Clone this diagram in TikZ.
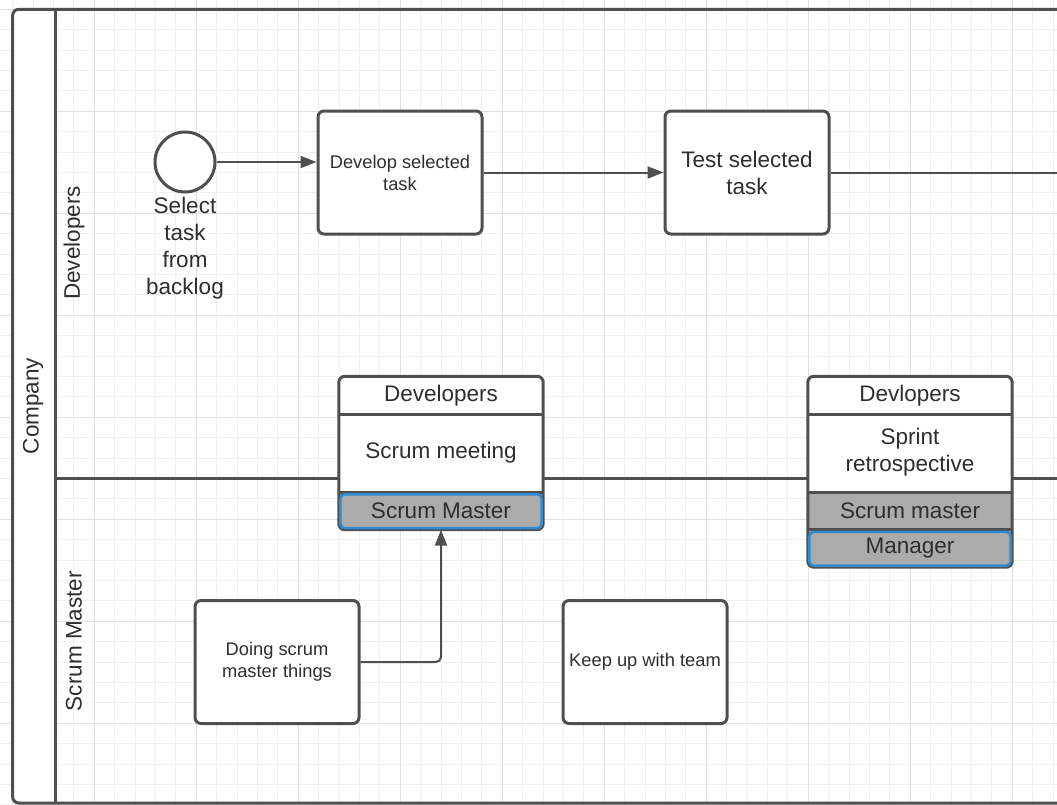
\documentclass[tikz,border=0pt]{standalone}
\usepackage{fontspec}
\setmainfont{Liberation Sans}
\usetikzlibrary{arrows.meta}

\definecolor{ink}{HTML}{4F4F4F}
\definecolor{txt}{HTML}{2E2E2E}
\definecolor{rowgray}{HTML}{ABABAB}
\definecolor{selblue}{HTML}{2F8AD2}
\definecolor{gridminor}{HTML}{F0F0F0}
\definecolor{gridmajor}{HTML}{E0E0E0}

\newcommand\bigtxt{\fontsize{22.5}{27}\selectfont}
\newcommand\smalltxt{\fontsize{18.3}{22}\selectfont}

\begin{document}
\begin{tikzpicture}[x=1pt,y=-1pt,
  minorline/.style={draw=gridminor,line width=1pt},
  majorline/.style={draw=gridmajor,line width=1pt},
  border/.style={draw=ink,line width=3pt},
  taskbox/.style={border,fill=white,rounded corners=6pt,minimum width=164pt,
    minimum height=123pt,inner sep=0pt,align=center,text=txt},
  flow/.style={draw=ink,line width=2pt,-{Triangle[length=16pt,width=12pt]}},
  plainline/.style={draw=ink,line width=2pt},
  rowcell/.style={minimum width=204pt,inner sep=0pt,align=center,text=txt,font=\bigtxt},
  blueedge/.style={draw=selblue,line width=2.5pt},
  lanetitle/.style={rotate=90,text=txt,font=\bigtxt,inner sep=0pt},
]
\useasboundingbox (0,0) rectangle (1057,804);
\clip (0,0) rectangle (1057,804);
\fill[white] (0,0) rectangle (1057,804);

% background grid
\foreach \k in {0,...,52} \draw[minorline] ({-7.7+20.4*\k},0) -- ++(0,804);
\foreach \k in {-1,...,39} \draw[minorline] (0,{9.3+20.4*\k}) -- ++(1057,0);
\foreach \k in {0,...,10} \draw[majorline] ({-7.7+102*\k},0) -- ++(0,804);
\foreach \k in {0,...,7} \draw[majorline] (0,{9.3+102*\k}) -- ++(1057,0);

% pool with its title column
\fill[white] (55,9.3) [rounded corners=6pt] -- (12.7,9.3) -- (12.7,803) [sharp corners] -- (55,803) -- cycle;
\draw[border,rounded corners=6pt] (1080,9.3) -- (12.7,9.3) -- (12.7,803) -- (1080,803);
\draw[border] (55,9.3) -- (55,803);
\draw[border] (55,478) -- (1080,478);

\node[lanetitle] (poolname) at (33,406) {Company};
\node[lanetitle] (lanedev) at (74,243) {Developers};
\node[lanetitle] (lanesm) at (74,641) {Scrum Master};

% developers lane
\node[circle,border,fill=white,minimum size=60pt,inner sep=0pt] (start) at (185,162) {};
\node[anchor=north,align=center,text=txt,font=\bigtxt,inner sep=0pt] (startlbl)
  at ([yshift=-3pt]start.south) {Select\\task\\from\\backlog};
\node[taskbox,font=\smalltxt] (develop) at (400,172.5) {Develop selected\\task};
\node[taskbox,font=\bigtxt] (test) at (747,172.5) {Test selected\\task};
\coordinate (rightend) at (1070,172.5);

% scrum meeting group
\begin{scope}
  \clip[rounded corners=6pt] (339,376.5) rectangle (543,529.5);
  \fill[white] (339,376.5) rectangle (543,529.5);
  \node[rowcell,minimum height=37.5pt] (smhead) at (441,395.25) {Developers};
  \node[rowcell,minimum height=78pt] (smbody) at (441,453) {Scrum meeting};
  \node[rowcell,minimum height=37.5pt,fill=rowgray] (smfoot) at (441,510.75) {Scrum Master};
\end{scope}
\draw[border,rounded corners=6pt] (smhead.north west) rectangle (smfoot.south east);
\draw[border] (smhead.south west) -- (smhead.south east);
\draw[border] (smbody.south west) -- (smbody.south east);
\draw[blueedge,rounded corners=4.5pt] ([shift={(1.5,2.5)}]smfoot.north west)
  rectangle ([shift={(-1.5,-1.5)}]smfoot.south east);

% sprint retrospective group
\begin{scope}
  \clip[rounded corners=6pt] (808,376.5) rectangle (1012,567);
  \fill[white] (808,376.5) rectangle (1012,567);
  \node[rowcell,minimum height=37.5pt] (srhead) at (910,395.25) {Devlopers};
  \node[rowcell,minimum height=78pt] (srbody) at (910,452) {Sprint\\retrospective};
  \node[rowcell,minimum height=37.5pt,fill=rowgray] (srsm) at (910,510.75) {Scrum master};
  \node[rowcell,minimum height=37.5pt,fill=rowgray] (srmgr) at (910,548.25) {Manager};
\end{scope}
\draw[border,rounded corners=6pt] (srhead.north west) rectangle (srmgr.south east);
\draw[border] (srhead.south west) -- (srhead.south east);
\draw[border] (srbody.south west |- smbody.south) -- (srbody.south east |- smbody.south);
\draw[border] (srsm.south west) -- (srsm.south east);
\draw[blueedge,rounded corners=4.5pt] ([shift={(1.5,2.5)}]srmgr.north west)
  rectangle ([shift={(-1.5,-1.5)}]srmgr.south east);

% scrum master lane
\node[taskbox,font=\smalltxt] (doing) at (277,662) {Doing scrum\\master things};
\node[taskbox,font=\smalltxt] (keepup) at (645,662) {Keep up with team};

% connectors
\draw[flow] (start.east) -- (start.east -| develop.west);
\draw[flow] (develop.east) -- (test.west);
\draw[plainline] (test.east) -- (rightend);
\draw[flow,rounded corners=5pt] (doing.east) -| (smfoot.south);
\end{tikzpicture}
\end{document}
